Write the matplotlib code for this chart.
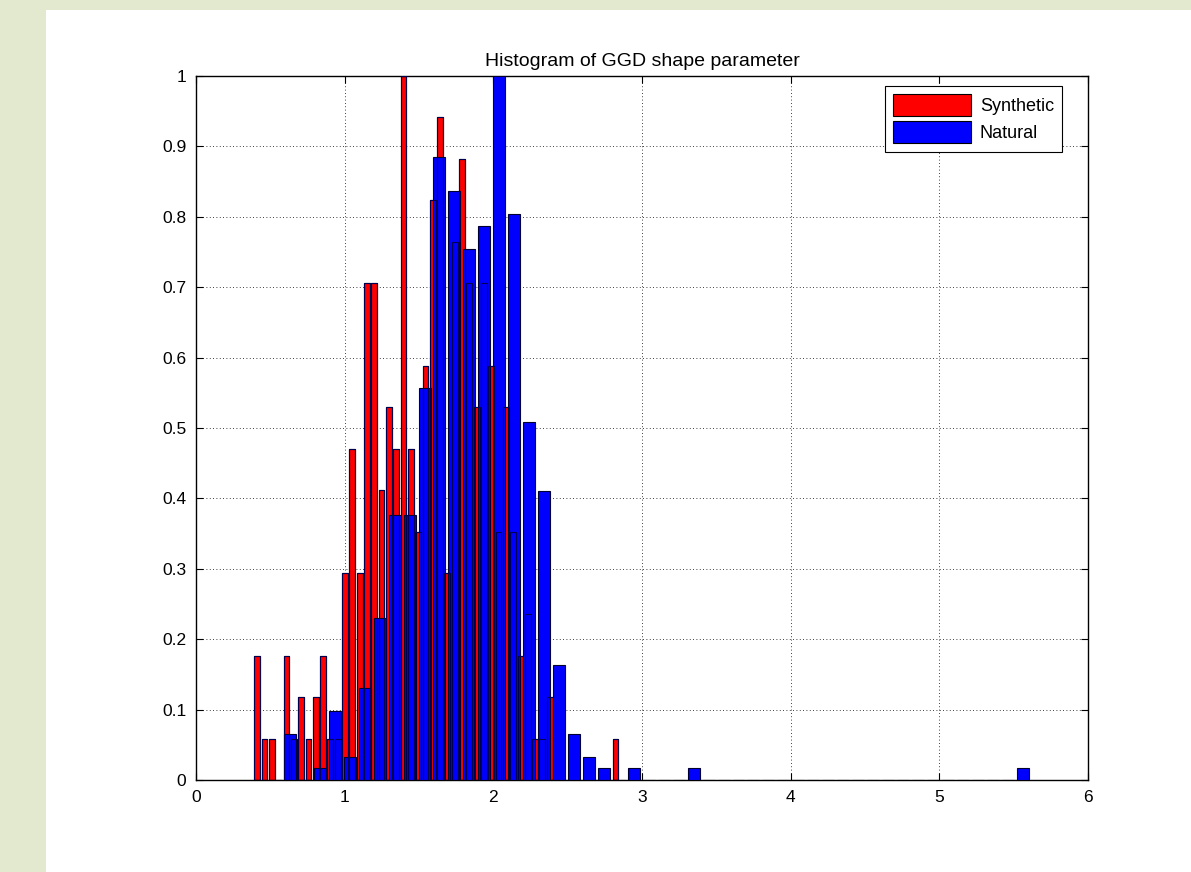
import numpy as np
import matplotlib.pyplot as plt
from matplotlib.patches import Rectangle

# histogram counts, 50 bins each (normalised by the max bin further down)
synthetic_range = (0.412, 2.822)   # first / last bin centre
synthetic_counts = [3, 1, 1, 0, 3, 1, 2, 1, 2, 3,
                    1, 1, 5, 8, 5, 12, 12, 7, 9, 8,
                    17, 8, 6, 10, 14, 16, 5, 13, 15, 12,
                    9, 12, 10, 6, 9, 6, 3, 4, 1, 1,
                    2, 0, 0, 0, 0, 0, 0, 0, 0, 1]

natural_range = (0.632, 5.560)
natural_counts = [4, 0, 1, 6, 2, 8, 14, 23, 23, 34,
                  54, 51, 46, 48, 61, 49, 31, 25, 10, 4,
                  2, 1, 0, 1, 0, 0, 0, 1, 0, 0,
                  0, 0, 0, 0, 0, 0, 0, 0, 0, 0,
                  0, 0, 0, 0, 0, 0, 0, 0, 0, 1]

series_labels = ['Synthetic', 'Natural']
x_ticks = [0, 1, 2, 3, 4, 5, 6]
y_ticks = [0, 0.1, 0.2, 0.3, 0.4, 0.5, 0.6, 0.7, 0.8, 0.9, 1]
y_ticklabels = ['0', '0.1', '0.2', '0.3', '0.4', '0.5', '0.6', '0.7', '0.8', '0.9', '1']

plt.rcParams.update({
    'font.family': ['Liberation Sans', 'DejaVu Sans'],
    'font.size': 12,
    'xtick.direction': 'in',
    'ytick.direction': 'in',
    'xtick.top': True,
    'ytick.right': True,
    'xtick.major.size': 5,
    'ytick.major.size': 5,
    'axes.linewidth': 1.0,
})


def bin_centres(rng, n):
    return np.linspace(rng[0], rng[1], n)


fig = plt.figure(figsize=(11.91, 8.72), dpi=100, facecolor='white')

# slide-style green frame on the left and top
green = '#e2e9cf'
fig.patches.append(Rectangle((0, 0), 46 / 1191, 1, transform=fig.transFigure,
                             facecolor=green, edgecolor='none', zorder=0))
fig.patches.append(Rectangle((0, 1 - 10 / 872), 1, 10 / 872, transform=fig.transFigure,
                             facecolor=green, edgecolor='none', zorder=0))

ax = fig.add_axes([196 / 1191, 92 / 872, 892 / 1191, 704 / 872])

syn = np.array(synthetic_counts, dtype=float)
nat = np.array(natural_counts, dtype=float)
x_syn = bin_centres(synthetic_range, len(syn))
x_nat = bin_centres(natural_range, len(nat))
w_syn = 0.8 * (x_syn[1] - x_syn[0])
w_nat = 0.8 * (x_nat[1] - x_nat[0])

h_syn = syn / syn.max()
h_nat = nat / nat.max()

ax.bar(x_syn, h_syn, width=w_syn, color='#ff0000', edgecolor='#300000',
       linewidth=0.8, label=series_labels[0], zorder=2)
ax.bar(x_nat, h_nat, width=w_nat, color='#0000ff', edgecolor='#000030',
       linewidth=0.8, label=series_labels[1], zorder=3)
# outlines of the red bars show through the blue ones
ax.bar(x_syn, h_syn, width=w_syn, facecolor='none', edgecolor='#000050',
       linewidth=0.8, zorder=4)

ax.set_xlim(0, 6)
ax.set_ylim(0, 1)
ax.set_xticks(x_ticks)
ax.set_yticks(y_ticks)
ax.set_yticklabels(y_ticklabels)
ax.tick_params(labelsize=12.5, pad=7)
ax.grid(True, linestyle=(0, (1, 3)), color='black', linewidth=0.6)
ax.set_axisbelow(True)
ax.set_title('Histogram of GGD shape parameter', fontsize=14, pad=7)

leg = ax.legend(loc='upper right', bbox_to_anchor=(0.971, 0.986), fontsize=13,
                handlelength=4.3, handleheight=1.5, fancybox=False,
                framealpha=1, edgecolor='black', borderpad=0.45,
                labelspacing=0.3, handletextpad=0.5, borderaxespad=0)
leg.get_frame().set_linewidth(0.8)
for h in leg.legend_handles:
    h.set_edgecolor('black')

fig.savefig('out.png', dpi=100, facecolor='white')
